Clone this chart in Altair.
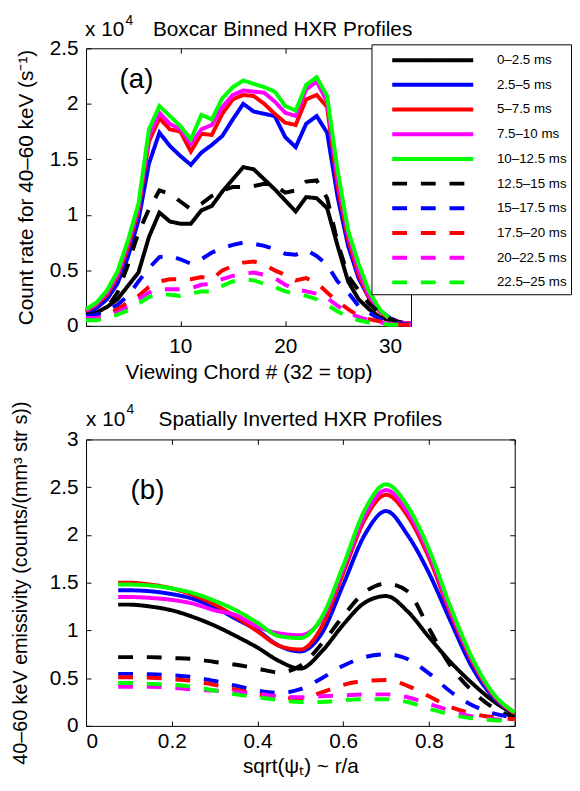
import altair as alt
import pandas as pd

FONT = "Liberation Sans"

series = ["0–2.5 ms", "2.5–5 ms", "5–7.5 ms", "7.5–10 ms", "10–12.5 ms",
          "12.5–15 ms", "15–17.5 ms", "17.5–20 ms", "20–22.5 ms", "22.5–25 ms"]
line_colors = ["#000000", "#0000ff", "#ff0000", "#ff00ff", "#00ff00",
               "#000000", "#0000ff", "#ff0000", "#ff00ff", "#00ff00"]
line_dashes = [[1, 0]] * 5 + [[15, 14]] * 5

# ---- panel (a): boxcar binned profiles (x 10^4 counts/s) ----
chords = list(range(1, 33))
top_black_s = [0.10, 0.12, 0.17, 0.24, 0.36, 0.48, 0.80, 1.02, 0.94, 0.92, 0.92, 1.04, 1.08, 1.21, 1.32, 1.43,
               1.41, 1.32, 1.23, 1.13, 1.03, 1.16, 1.15, 1.06, 0.72, 0.40, 0.24, 0.15, 0.08, 0.05, 0.03, 0.02]
top_blue_s = [0.12, 0.16, 0.24, 0.38, 0.62, 0.95, 1.46, 1.74, 1.62, 1.53, 1.45, 1.56, 1.63, 1.71, 1.86, 2.00,
              1.93, 1.91, 1.89, 1.70, 1.61, 1.82, 1.89, 1.74, 1.16, 0.72, 0.43, 0.25, 0.14, 0.07, 0.03, 0.02]
top_red_s = [0.13, 0.19, 0.28, 0.44, 0.70, 1.04, 1.66, 1.87, 1.77, 1.75, 1.57, 1.73, 1.72, 1.91, 2.04, 2.08,
             2.07, 2.00, 1.91, 1.83, 1.81, 2.04, 2.08, 1.97, 1.25, 0.78, 0.46, 0.25, 0.13, 0.06, 0.03, 0.02]
top_magenta_s = [0.14, 0.20, 0.30, 0.46, 0.74, 1.07, 1.71, 1.92, 1.82, 1.77, 1.64, 1.77, 1.81, 1.97, 2.08, 2.12,
                 2.11, 2.10, 2.02, 1.92, 1.89, 2.13, 2.20, 2.02, 1.32, 0.83, 0.50, 0.27, 0.14, 0.06, 0.03, 0.02]
top_green_s = [0.15, 0.21, 0.32, 0.49, 0.77, 1.10, 1.77, 1.98, 1.89, 1.80, 1.68, 1.90, 1.86, 2.05, 2.15, 2.21,
               2.18, 2.15, 2.11, 1.98, 1.94, 2.17, 2.24, 2.07, 1.40, 0.86, 0.56, 0.31, 0.15, 0.06, 0.02, 0.01]
top_black_d = [0.10, 0.11, 0.16, 0.30, 0.55, 0.84, 1.05, 1.22, 1.19, 1.12, 1.05, 1.10, 1.17, 1.22, 1.25, 1.25,
               1.26, 1.28, 1.27, 1.20, 1.22, 1.30, 1.31, 1.15, 0.75, 0.45, 0.32, 0.20, 0.12, 0.06, 0.03, 0.02]
top_blue_d = [0.09, 0.10, 0.14, 0.19, 0.27, 0.40, 0.52, 0.62, 0.63, 0.60, 0.56, 0.60, 0.66, 0.70, 0.73, 0.75,
              0.74, 0.72, 0.69, 0.65, 0.64, 0.68, 0.63, 0.55, 0.40, 0.30, 0.18, 0.12, 0.06, 0.04, 0.02, 0.01]
top_red_d = [0.07, 0.07, 0.10, 0.15, 0.21, 0.27, 0.35, 0.40, 0.42, 0.42, 0.42, 0.44, 0.42, 0.50, 0.54, 0.57,
             0.58, 0.55, 0.50, 0.46, 0.41, 0.43, 0.39, 0.30, 0.22, 0.15, 0.09, 0.06, 0.04, 0.02, 0.01, 0.01]
top_magenta_d = [0.07, 0.07, 0.09, 0.12, 0.17, 0.24, 0.30, 0.33, 0.33, 0.33, 0.34, 0.37, 0.38, 0.42, 0.45, 0.47,
                 0.48, 0.46, 0.43, 0.37, 0.33, 0.31, 0.29, 0.25, 0.18, 0.12, 0.08, 0.05, 0.03, 0.02, 0.01, 0.01]
top_green_d = [0.05, 0.05, 0.07, 0.10, 0.14, 0.20, 0.26, 0.29, 0.28, 0.27, 0.29, 0.31, 0.31, 0.36, 0.40, 0.42,
               0.41, 0.38, 0.35, 0.31, 0.29, 0.27, 0.24, 0.19, 0.13, 0.08, 0.05, 0.03, 0.02, 0.01, 0.01, 0.01]
top_values = [top_black_s, top_blue_s, top_red_s, top_magenta_s, top_green_s,
              top_black_d, top_blue_d, top_red_d, top_magenta_d, top_green_d]

# ---- panel (b): spatially inverted profiles (x 10^4) ----
radius = [0.075, 0.1, 0.15, 0.2, 0.25, 0.3, 0.35, 0.4, 0.45, 0.5,
          0.55, 0.6, 0.65, 0.7, 0.75, 0.8, 0.85, 0.9, 0.95, 1.0]
bot_black_s = [1.27, 1.27, 1.25, 1.21, 1.14, 1.05, 0.94, 0.82, 0.68, 0.60, 0.78, 1.06, 1.29, 1.36, 1.20, 0.93, 0.67, 0.45, 0.26, 0.12]
bot_blue_s = [1.42, 1.42, 1.41, 1.38, 1.33, 1.24, 1.12, 1.00, 0.84, 0.78, 0.97, 1.48, 2.00, 2.25, 2.00, 1.60, 1.10, 0.62, 0.30, 0.13]
bot_red_s = [1.50, 1.50, 1.48, 1.44, 1.37, 1.27, 1.14, 0.99, 0.84, 0.80, 1.04, 1.60, 2.16, 2.42, 2.20, 1.76, 1.18, 0.68, 0.32, 0.13]
bot_magenta_s = [1.35, 1.35, 1.34, 1.32, 1.28, 1.21, 1.16, 1.04, 0.97, 0.95, 1.12, 1.64, 2.20, 2.47, 2.24, 1.80, 1.21, 0.70, 0.33, 0.14]
bot_green_s = [1.48, 1.48, 1.47, 1.44, 1.39, 1.31, 1.21, 1.08, 0.94, 0.92, 1.14, 1.68, 2.26, 2.53, 2.30, 1.85, 1.25, 0.72, 0.34, 0.14]
bot_black_d = [0.72, 0.72, 0.72, 0.71, 0.70, 0.67, 0.64, 0.60, 0.56, 0.63, 0.86, 1.15, 1.40, 1.49, 1.41, 1.02, 0.63, 0.37, 0.19, 0.09]
bot_blue_d = [0.545, 0.545, 0.54, 0.53, 0.51, 0.47, 0.42, 0.37, 0.345, 0.385, 0.50, 0.63, 0.72, 0.75, 0.70, 0.55, 0.36, 0.22, 0.13, 0.09]
bot_red_d = [0.51, 0.51, 0.505, 0.49, 0.47, 0.43, 0.38, 0.33, 0.29, 0.29, 0.35, 0.43, 0.47, 0.48, 0.42, 0.31, 0.20, 0.13, 0.09, 0.07]
bot_magenta_d = [0.41, 0.41, 0.41, 0.40, 0.38, 0.37, 0.355, 0.335, 0.31, 0.30, 0.31, 0.32, 0.33, 0.33, 0.30, 0.23, 0.16, 0.10, 0.07, 0.06]
bot_green_d = [0.45, 0.45, 0.44, 0.43, 0.41, 0.37, 0.33, 0.30, 0.27, 0.25, 0.25, 0.27, 0.28, 0.28, 0.25, 0.18, 0.12, 0.08, 0.06, 0.05]
bot_values = [bot_black_s, bot_blue_s, bot_red_s, bot_magenta_s, bot_green_s,
              bot_black_d, bot_blue_d, bot_red_d, bot_magenta_d, bot_green_d]

top_x_ticks = [10, 20, 30]
top_y_ticks = [0, 0.5, 1, 1.5, 2, 2.5]
bot_x_ticks = [0, 0.2, 0.4, 0.6, 0.8, 1]
bot_y_ticks = [0, 0.5, 1, 1.5, 2, 2.5, 3]

panel_a = {"chord": [4.2], "rate": [2.21], "t": ["(a)"]}
panel_b = {"r": [0.104], "em": [2.46], "t": ["(b)"]}
top_title_text = "Boxcar Binned HXR Profiles"
bot_title_text = "Spatially Inverted HXR Profiles"

top_df = pd.DataFrame([{"series": s, "k": i, "chord": c, "rate": v}
                       for i, (s, vals) in enumerate(zip(series, top_values))
                       for c, v in zip(chords, vals)])
bot_df = pd.DataFrame([{"series": s, "k": i, "r": r, "em": v}
                       for i, (s, vals) in enumerate(zip(series, bot_values))
                       for r, v in zip(radius, vals)])

legend = alt.Legend(title=None, orient="none", legendX=289, legendY=-4,
                    symbolType="M-4.1,0H4.1", symbolSize=400, symbolStrokeWidth=4,
                    symbolOffset=46, labelOffset=53,
                    labelFont=FONT, labelFontSize=13.5, labelColor="black",
                    rowPadding=5, padding=4,
                    strokeColor="black", fillColor="white", labelLimit=300)


def note(df, text, x, y, size, align="left"):
    return alt.Chart(df).mark_text(
        align=align, baseline="alphabetic", fontSize=size, font=FONT, color="black", text=text
    ).encode(x=alt.value(x), y=alt.value(y))


# ---------------- top panel ----------------
TW, TH = 329, 281
top_lines = alt.Chart(top_df).mark_line(strokeWidth=4).encode(
    x=alt.X("chord:Q", scale=alt.Scale(domain=[1, 32], nice=False, zero=False),
            axis=alt.Axis(values=top_x_ticks, title="Viewing Chord # (32 = top)",
                          labelPadding=10, titlePadding=5)),
    y=alt.Y("rate:Q", scale=alt.Scale(domain=[0, 2.5], nice=False, zero=False),
            axis=alt.Axis(values=top_y_ticks, format="~g", title="Count rate for 40–60 keV (s⁻¹)",
                          labelPadding=8, titlePadding=13)),
    color=alt.Color("series:N", scale=alt.Scale(domain=series, range=line_colors), legend=legend),
    strokeDash=alt.StrokeDash("series:N", scale=alt.Scale(domain=series, range=line_dashes), legend=legend),
    detail="k:O",
)
top_label = alt.Chart(pd.DataFrame(panel_a)).mark_text(
    align="left", baseline="middle", fontSize=28, font=FONT, color="black").encode(
    x=alt.X("chord:Q", axis=alt.Axis(orient="top", values=top_x_ticks, labels=False, title=None)),
    y=alt.Y("rate:Q", axis=alt.Axis(orient="right", values=top_y_ticks, labels=False, title=None)),
    text="t:N",
)
adf = pd.DataFrame(panel_a)
top = alt.layer(
    top_lines, top_label,
    note(adf, "x 10", -1, -12, 21), note(adf, "4", 40, -24, 14),
    note(adf, top_title_text, 199, -12, 21, align="center"),
).resolve_axis(x="independent", y="independent").properties(width=TW, height=TH)

# ---------------- bottom panel ----------------
BW, BH = 434, 290
bot_lines = alt.Chart(bot_df).mark_line(strokeWidth=4, interpolate="monotone").encode(
    x=alt.X("r:Q", scale=alt.Scale(domain=[0, 1], nice=False, zero=False),
            axis=alt.Axis(values=bot_x_ticks, format="~g", title="sqrt(ψₜ) ~ r/a",
                          labelPadding=5, titlePadding=4)),
    y=alt.Y("em:Q", scale=alt.Scale(domain=[0, 3], nice=False, zero=False),
            axis=alt.Axis(values=bot_y_ticks, format="~g",
                          title="40–60 keV emissivity (counts/(mm³ str s))",
                          titleFontSize=20, labelPadding=8, titlePadding=19)),
    color=alt.Color("series:N", scale=alt.Scale(domain=series, range=line_colors), legend=None),
    strokeDash=alt.StrokeDash("series:N", scale=alt.Scale(domain=series, range=line_dashes), legend=None),
    detail="k:O",
)
bot_label = alt.Chart(pd.DataFrame(panel_b)).mark_text(
    align="left", baseline="middle", fontSize=28, font=FONT, color="black").encode(
    x=alt.X("r:Q", axis=alt.Axis(orient="top", values=bot_x_ticks, labels=False, title=None)),
    y=alt.Y("em:Q", axis=alt.Axis(orient="right", values=bot_y_ticks, labels=False, title=None)),
    text="t:N",
)
bdf = pd.DataFrame(panel_b)
bottom = alt.layer(
    bot_lines, bot_label,
    note(bdf, "x 10", 0, -14, 21), note(bdf, "4", 41, -26, 14),
    note(bdf, bot_title_text, BW / 2, -14, 21, align="center"),
).resolve_axis(x="independent", y="independent").properties(width=BW, height=BH)

chart = alt.vconcat(top, bottom, spacing=17).resolve_scale(
    color="independent", strokeDash="independent"
).resolve_legend(
    color="independent", strokeDash="independent"
).properties(
    padding={"left": 2, "top": 0, "right": 0, "bottom": 0}
).configure_view(stroke="black", strokeWidth=1).configure_axis(
    domain=False, grid=False, ticks=True, tickColor="black", tickSize=5, tickWidth=1, offset=-5,
    labelFont=FONT, labelFontSize=21, labelColor="black",
    titleFont=FONT, titleFontSize=21, titleFontWeight="normal", titleColor="black",
).configure_legend(labelFont=FONT, labelFontSize=13.5, labelColor="black")

chart.save("out.html", embed_options={"renderer": "svg", "actions": False})
